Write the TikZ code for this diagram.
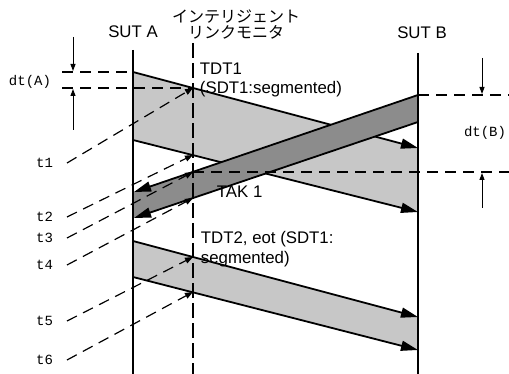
\documentclass[tikz,border=0pt]{standalone}
\usepackage{fontspec}
\setmainfont{Liberation Sans}
\setmonofont{Liberation Mono}
\newfontfamily\jpfont{Noto Sans CJK JP}
\usepackage{tikz}
\usetikzlibrary{arrows.meta}
\usetikzlibrary{positioning}

\begin{document}
\begin{tikzpicture}[x=1pt,y=1pt,yscale=-1,xscale=1,
  lifeline/.style={line width=1.6pt},
  monline/.style={line width=1.4pt, dash pattern=on 15pt off 5pt},
  msgedge/.style={line width=1.8pt, -{Triangle[length=17pt,width=10pt]}},
  tdtband/.style={fill=black!22, draw=none},
  takband/.style={fill=black!45, draw=none},
  tline/.style={line width=1.2pt, dash pattern=on 11pt off 7pt},
  tmark/.style={tline, -{Triangle[length=8pt,width=6pt]}},
  dtarrow/.style={line width=1pt, -{Triangle[length=7pt,width=5pt]}},
  sans/.style={font=\fontsize{16.8}{19.5}\selectfont, inner sep=0.75pt},
  jp/.style={font=\fontsize{16}{16}\jpfont, inner sep=0.75pt},
  mono/.style={font=\fontsize{14}{16}\ttfamily, inner sep=0.75pt}
]
\useasboundingbox (0,0) rectangle (509,374);

% lifelines
\coordinate (aTop) at (133,50);
\coordinate (aBot) at (133,374);
\coordinate (mTop) at (193,43);
\coordinate (mBot) at (193,374);
\coordinate (bTop) at (418,53);
\coordinate (bBot) at (418,374);

% TDT1
\coordinate (p1) at (133,72);
\coordinate (q1) at (418,148);
\coordinate (p2) at (133,140);
\coordinate (q2) at (418,212);
% TAK 1
\coordinate (r1) at (418,95);
\coordinate (u1) at (134,192);
\coordinate (r2) at (418,122);
\coordinate (u2) at (134,218);
% TDT2
\coordinate (p3) at (133,241);
\coordinate (q3) at (418,317);
\coordinate (p4) at (133,277);
\coordinate (q4) at (418,350);
% seen at the monitor
\coordinate (m1) at (193,88);
\coordinate (m2) at (193,155);
\coordinate (m3) at (193,172);
\coordinate (m4) at (193,198);
\coordinate (m5) at (193,257);
\coordinate (m6) at (193,292);
% start of the t lines
\coordinate (s1) at (67,163);
\coordinate (s2) at (67,217);
\coordinate (s3) at (67,238);
\coordinate (s4) at (67,265);
\coordinate (s5) at (67,321);
\coordinate (s6) at (67,360);
% dt(A), dt(B)
\coordinate (a0) at (62,72);
\coordinate (a1) at (62,88);
\coordinate (b1) at (509,95);
\coordinate (b2) at (509,172);

%Shape: TDT bands
\fill [tdtband] (p1) -- (q1) -- (q2) -- (p2) -- cycle ;
\fill [tdtband] (p3) -- (q3) -- (q4) -- (p4) -- cycle ;
%Straight Lines
\draw [msgedge] (p1) -- (q1) ;
\draw [msgedge] (p2) -- (q2) ;
\draw [msgedge] (p3) -- (q3) ;
\draw [msgedge] (p4) -- (q4) ;

%Shape: TAK band
\fill [takband] (r1) -- (u1) -- (u2) -- (r2) -- cycle ;
\draw [msgedge] (r1) -- (u1) ;
\draw [msgedge] (r2) -- (u2) ;

%Straight Lines
\draw [lifeline] (aTop) -- (aBot) ;
\draw [lifeline] (bTop) -- (bBot) ;
\draw [monline] (mTop) -- (mBot) ;

%Dashed Lines
\draw [tline] (a0) -- (p1) ;
\draw [tline] (a1) -- (m1) ;
\draw [tline] (r1) -- (b1) ;
\draw [tline] (m3) -- (b2) ;
\draw [tmark] (s1) -- (m1) ;
\draw [tmark] (s2) -- (m2) ;
\draw [tmark] (s3) -- (m3) ;
\draw [tmark] (s4) -- (m4) ;
\draw [tmark] (s5) -- (m5) ;
\draw [tmark] (s6) -- (m6) ;

%Arrows
\draw [dtarrow] (73,37) -- (73,71) ;
\draw [dtarrow] (73,130) -- (73,89) ;
\draw [dtarrow] (482,58) -- (482,94) ;
\draw [dtarrow] (482,208) -- (482,173) ;

% Text Node
\node [sans] (sutA) at (133,32) {SUT A};
% Text Node
\node [sans] (sutB) at (422,33) {SUT B};
% Text Node
\node [jp, align=center] (mon) at (236,25) {インテリジェント\\リンクモニタ};
% Text Node
\node [sans, anchor=west, align=left] (tdt1) at (199,80) {TDT1\\(SDT1:segmented)};
% Text Node
\node [sans, anchor=west] (tak1) at (216,192) {TAK 1};
% Text Node
\node [sans, anchor=west, align=left] (tdt2) at (200,249) {TDT2, eot (SDT1:\\segmented)};
% Text Node
\node [mono] (dtA) at (30,82) {dt(A)};
% Text Node
\node [mono] (dtB) at (485,133) {dt(B)};
% Text Node
\node [mono, left=13pt of s1] (lt1) {t1};
\node [mono, left=13pt of s2] (lt2) {t2};
\node [mono, left=13pt of s3] (lt3) {t3};
\node [mono, left=13pt of s4] (lt4) {t4};
\node [mono, left=13pt of s5] (lt5) {t5};
\node [mono, left=13pt of s6] (lt6) {t6};

\end{tikzpicture}
\end{document}
